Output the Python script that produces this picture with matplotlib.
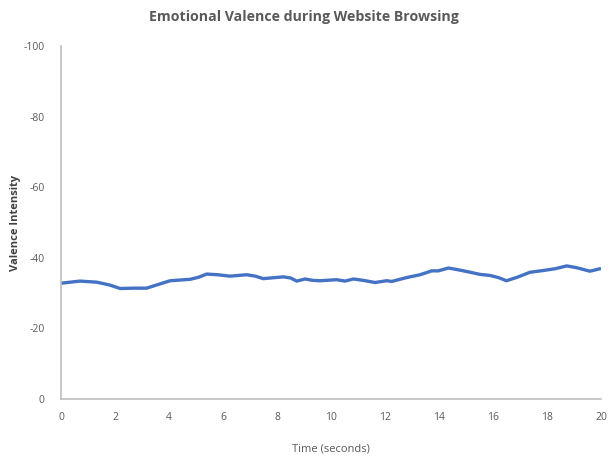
import matplotlib
matplotlib.use("Agg")
import matplotlib.pyplot as plt

# valence over time (negative values, axis runs 0 -> -100 upward)
time_s = [0.0, 0.7, 1.32, 1.8, 2.19, 2.7, 3.17, 3.5, 4.04, 4.78, 5.1, 5.4, 5.8, 6.26,
          6.88, 7.2, 7.49, 8.23, 8.5, 8.73, 9.04, 9.33, 9.59, 10.21, 10.52, 10.83,
          11.2, 11.63, 12.06, 12.25, 12.8, 13.3, 13.73, 13.97, 14.35, 14.65, 15.1,
          15.52, 15.89, 16.2, 16.5, 16.9, 17.37, 17.86, 18.3, 18.73, 19.1, 19.59, 19.96]
valence = [-32.8, -33.4, -33.1, -32.3, -31.3, -31.4, -31.4, -32.2, -33.5, -33.9, -34.5,
           -35.4, -35.2, -34.8, -35.2, -34.8, -34.1, -34.6, -34.3, -33.4, -34.0, -33.6,
           -33.5, -33.8, -33.4, -34.0, -33.6, -33.0, -33.5, -33.3, -34.4, -35.2, -36.3,
           -36.3, -37.1, -36.7, -36.0, -35.3, -35.0, -34.4, -33.5, -34.5, -35.9, -36.4,
           -36.9, -37.7, -37.2, -36.2, -36.9]

plt.rcParams['font.family'] = ['Open Sans', 'DejaVu Sans']
plt.rcParams['axes.unicode_minus'] = False

fig = plt.figure(figsize=(6.08, 4.57), dpi=100)
ax = fig.add_axes([61 / 608, 1 - 399 / 457, 540 / 608, 353 / 457])

ax.plot(time_s, valence, color='#4472C4', linewidth=2.4, solid_capstyle='round')

ax.set_xlim(0, 20)
ax.set_ylim(0, -100)
ax.set_xticks(range(0, 21, 2))
ax.set_yticks(range(0, -101, -20))

for side in ['top', 'right']:
    ax.spines[side].set_visible(False)
for side in ['left', 'bottom']:
    ax.spines[side].set_color('#BFBFBF')
    ax.spines[side].set_linewidth(1.2)

ax.tick_params(length=0, labelsize=7.5, colors='#595959')
ax.tick_params(axis='x', pad=9)
ax.tick_params(axis='y', pad=12)

ax.set_xlabel('Time (seconds)', fontsize=8, color='#595959')
ax.xaxis.set_label_coords(0.5, -0.125)
ax.set_ylabel('Valence Intensity', fontsize=8, color='#404040', fontweight='bold')
ax.yaxis.set_label_coords(-0.074, 0.5)
fig.suptitle('Emotional Valence during Website Browsing', fontsize=10.2,
             fontweight='bold', color='#595959', y=0.978)

fig.savefig('out.png', dpi=100)
